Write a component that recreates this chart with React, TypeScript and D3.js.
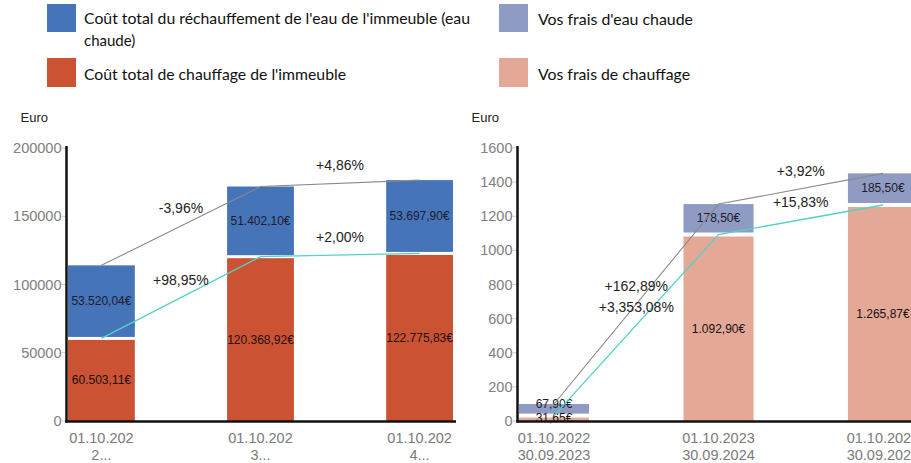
import React from "react";
import * as d3 from "d3";

// ---------- data ----------
const legendBuildingHotWater = ["Coût total du réchauffement de l'eau de l'immeuble (eau", "chaude)"];
const legendBuildingHeating = "Coût total de chauffage de l'immeuble";
const legendYourHotWater = "Vos frais d'eau chaude";
const legendYourHeating = "Vos frais de chauffage";

const leftCategories = [["01.10.202", "2..."], ["01.10.202", "3..."], ["01.10.202", "4..."]];
const buildingHeating = [60503.11, 120368.92, 122775.83];
const buildingHotWater = [53520.04, 51402.1, 53697.9];
const buildingHeatingLabels = ["60.503,11€", "120.368,92€", "122.775,83€"];
const buildingHotWaterLabels = ["53.520,04€", "51.402,10€", "53.697,90€"];
const buildingTotalChange = ["-3,96%", "+4,86%"];
const buildingHeatingChange = ["+98,95%", "+2,00%"];
const leftTicks = [0, 50000, 100000, 150000, 200000];

const rightCategories = [["01.10.2022", "30.09.2023"], ["01.10.2023", "30.09.2024"], ["01.10.2024", "30.09.2025"]];
const yourHeating = [31.65, 1092.9, 1265.87];
const yourHotWater = [67.9, 178.5, 185.5];
const yourHeatingLabels = ["31,65€", "1.092,90€", "1.265,87€"];
const yourHotWaterLabels = ["67,90€", "178,50€", "185,50€"];
const yourTotalChange = ["+162,89%", "+3,92%"];
const yourHeatingChange = ["+3,353,08%", "+15,83%"];
const rightTicks = [0, 200, 400, 600, 800, 1000, 1200, 1400, 1600];

const FONT = "'Liberation Sans', Arial, sans-serif";
const LEGEND_FONT = "Lato, 'Open Sans', sans-serif";

type PanelProps = {
  categories: string[][];
  heating: number[];
  hotWater: number[];
  heatingLabels: string[];
  hotWaterLabels: string[];
  totalChange: string[];
  heatingChange: string[];
  ticks: number[];
  yMax: number;
  axisX: number;
  axisEnd: number;
  barRange: [number, number];
  padInner: number;
  gap: number;
  hotColor: string;
  heatColor: string;
};

function Panel(p: PanelProps) {
  const y = d3.scaleLinear().domain([0, p.yMax]).range([421, 148]);
  const x = d3
    .scaleBand<number>()
    .domain(p.categories.map((_, i) => i))
    .range(p.barRange)
    .paddingInner(p.padInner)
    .paddingOuter(0);
  const bw = x.bandwidth();
  const cx = (i: number) => (x(i) as number) + bw / 2;
  const totals = p.heating.map((h, i) => h + p.hotWater[i]);
  const line = d3
    .line<[number, number]>()
    .x((d) => d[0])
    .y((d) => d[1]);
  const totalPts: [number, number][] = totals.map((t, i) => [cx(i), y(t)]);
  const heatPts: [number, number][] = p.heating.map((h, i) => [cx(i), y(h)]);
  const g2 = p.gap / 2;
  return (
    <g>
      {/* ticks */}
      {p.ticks.map((t) => (
        <g key={t}>
          <line x1={p.axisX - 5} x2={p.axisX} y1={y(t)} y2={y(t)} stroke="#ccc" strokeWidth={1} />
          <text
            x={p.axisX - 5}
            y={y(t)}
            textAnchor="end"
            dominantBaseline="central"
            fontFamily={FONT}
            fontSize={14.5}
            fill="#808080"
          >
            {t}
          </text>
        </g>
      ))}
      {/* bars */}
      {p.categories.map((_, i) => {
        const yb = y(p.heating[i]);
        const yt = y(totals[i]);
        const hotTop = yt;
        const hotBot = yb - g2;
        const heatTop = yb + g2;
        const heatBot = y(0);
        const small = hotBot - hotTop < 16;
        const hotLabelY = small ? hotTop : (hotTop + hotBot) / 2;
        const heatLabelY = small ? (heatTop + heatBot) / 2 - 1.5 : (heatTop + heatBot) / 2;
        return (
          <g key={i}>
            <rect x={x(i)} y={hotTop} width={bw} height={Math.max(0, hotBot - hotTop)} fill={p.hotColor} />
            <rect x={x(i)} y={heatTop} width={bw} height={Math.max(0, heatBot - heatTop)} fill={p.heatColor} />
            <text
              x={cx(i)}
              y={hotLabelY}
              textAnchor="middle"
              dominantBaseline="central"
              fontFamily={FONT}
              fontSize={12}
              fill="#1c1c2a"
            >
              {p.hotWaterLabels[i]}
            </text>
            <text
              x={cx(i)}
              y={heatLabelY}
              textAnchor="middle"
              dominantBaseline="central"
              fontFamily={FONT}
              fontSize={12}
              fill="#201010"
            >
              {p.heatingLabels[i]}
            </text>
          </g>
        );
      })}
      {/* lines */}
      <path d={line(totalPts) || ""} fill="none" stroke="#8a8a8a" strokeWidth={1.1} />
      <path d={line(heatPts) || ""} fill="none" stroke="#52d3c6" strokeWidth={1.3} />
      {p.totalChange.map((lab, i) => (
        <text
          key={"t" + i}
          x={(totalPts[i][0] + totalPts[i + 1][0]) / 2}
          y={(totalPts[i][1] + totalPts[i + 1][1]) / 2 - 18}
          textAnchor="middle"
          dominantBaseline="central"
          fontFamily={FONT}
          fontSize={14}
          fill="#222"
        >
          {lab}
        </text>
      ))}
      {p.heatingChange.map((lab, i) => (
        <text
          key={"h" + i}
          x={(heatPts[i][0] + heatPts[i + 1][0]) / 2}
          y={(heatPts[i][1] + heatPts[i + 1][1]) / 2 - 18}
          textAnchor="middle"
          dominantBaseline="central"
          fontFamily={FONT}
          fontSize={14}
          fill="#222"
        >
          {lab}
        </text>
      ))}
      {/* axes */}
      <line x1={p.axisX} x2={p.axisX} y1={146} y2={422.5} stroke="#111" strokeWidth={2.5} />
      <line x1={p.axisX - 1.2} x2={p.axisEnd} y1={421.5} y2={421.5} stroke="#111" strokeWidth={2.5} />
      {/* x labels */}
      {p.categories.map((c, i) => (
        <text
          key={"x" + i}
          x={cx(i)}
          textAnchor="middle"
          fontFamily={FONT}
          fontSize={14.5}
          fill="#7a7a7a"
        >
          <tspan x={cx(i)} y={443}>
            {c[0]}
          </tspan>
          <tspan x={cx(i)} y={460}>
            {c[1]}
          </tspan>
        </text>
      ))}
      <text x={p.axisX - 46} y={117} dominantBaseline="central" fontFamily={FONT} fontSize={13} fill="#222">
        Euro
      </text>
    </g>
  );
}

export default function App() {
  return (
    <svg
      width={911}
      height={463}
      style={{ position: "absolute", left: 0, top: 0, background: "#fff" }}
    >
      <rect x={0} y={0} width={911} height={463} fill="#fff" />
      {/* legend */}
      <rect x={47} y={4} width={29} height={28} fill="#4674b9" />
      <rect x={47} y={58} width={29} height={29} fill="#cb5232" />
      <rect x={499} y={4} width={29} height={28} fill="#8f9bc3" />
      <rect x={499} y={58} width={29} height={29} fill="#e3a896" />
      <text fontFamily={LEGEND_FONT} fontSize={15} fill="#111">
        <tspan x={84} y={24} textLength={386} lengthAdjust="spacingAndGlyphs">
          {legendBuildingHotWater[0]}
        </tspan>
        <tspan x={84} y={46}>
          {legendBuildingHotWater[1]}
        </tspan>
      </text>
      <text x={84} y={80} fontFamily={LEGEND_FONT} fontSize={15} fill="#111" textLength={262} lengthAdjust="spacingAndGlyphs">
        {legendBuildingHeating}
      </text>
      <text x={538} y={25} fontFamily={LEGEND_FONT} fontSize={15} fill="#111" textLength={155} lengthAdjust="spacingAndGlyphs">
        {legendYourHotWater}
      </text>
      <text x={538} y={80} fontFamily={LEGEND_FONT} fontSize={15} fill="#111" textLength={152} lengthAdjust="spacingAndGlyphs">
        {legendYourHeating}
      </text>

      <Panel
        categories={leftCategories}
        heating={buildingHeating}
        hotWater={buildingHotWater}
        heatingLabels={buildingHeatingLabels}
        hotWaterLabels={buildingHotWaterLabels}
        totalChange={buildingTotalChange}
        heatingChange={buildingHeatingChange}
        ticks={leftTicks}
        yMax={200000}
        axisX={66.5}
        axisEnd={456}
        barRange={[68, 453]}
        padInner={0.58}
        gap={3}
        hotColor="#4674b9"
        heatColor="#cb5232"
      />
      <Panel
        categories={rightCategories}
        heating={yourHeating}
        hotWater={yourHotWater}
        heatingLabels={yourHeatingLabels}
        hotWaterLabels={yourHotWaterLabels}
        totalChange={yourTotalChange}
        heatingChange={yourHeatingChange}
        ticks={rightTicks}
        yMax={1600}
        axisX={517.5}
        axisEnd={911}
        barRange={[519, 918]}
        padInner={0.574}
        gap={4}
        hotColor="#8f9bc3"
        heatColor="#e3a896"
      />
    </svg>
  );
}
